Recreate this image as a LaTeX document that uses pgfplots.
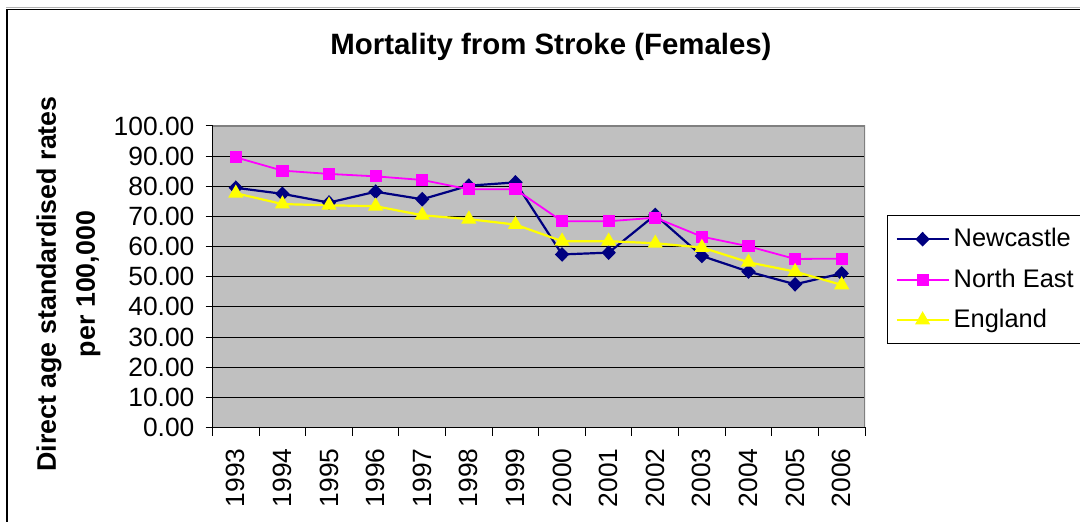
\documentclass[border=0pt]{standalone}
\usepackage{pgfplots}
\pgfplotsset{compat=1.18}
\usepackage{fontspec}
\setmainfont{Liberation Sans}
\definecolor{navy}{HTML}{000080}
\definecolor{mag}{HTML}{FF00FF}
\definecolor{yel}{HTML}{FFFF00}
\definecolor{plotbg}{HTML}{C0C0C0}
\begin{document}
\begin{tikzpicture}
\path[use as bounding box] (0pt,0pt) rectangle (540pt,-261pt);
\draw[gray!60, line width=0.5pt] (3pt,-4pt) -- (600pt,-4pt);
\draw[black, line width=0.6pt] (3.5pt,-300pt) -- (3.5pt,-4.75pt) -- (600pt,-4.75pt);
\node[anchor=base, font=\bfseries\fontsize{14.7}{17}\selectfont] at (275.5pt,-27.5pt) {Mortality from Stroke (Females)};
\node[rotate=90, align=center, font=\bfseries\fontsize{13.4}{19.5}\selectfont] at (34.25pt,-142pt) {Direct age standardised rates\\per 100,000};
\begin{axis}[
  at={(106.25pt,-213.75pt)}, anchor=south west,
  scale only axis, width=326.25pt, height=150.75pt,
  xmin=-0.5, xmax=13.5, ymin=0, ymax=100,
  axis background/.style={fill=plotbg},
  axis x line*=bottom, axis y line*=left,
  axis line style={-, black, line width=0.7pt},
  xtick={0,...,13},
  xticklabels={1993,1994,1995,1996,1997,1998,1999,2000,2001,2002,2003,2004,2005,2006},
  major x tick style={draw=none},
  minor xtick={-0.5,0.5,...,13.5},
  minor tick length=4pt,
  minor tick style={black, line width=0.5pt},
  ytick={0,10,...,100},
  tick align=outside,
  major tick length=3.5pt,
  major tick style={black, line width=0.5pt},
  ymajorgrids, major grid style={black, line width=0.5pt},
  /pgf/number format/assume math mode=true,
  ticklabel style={font=\fontsize{13.2}{15}\selectfont},
  yticklabel style={/pgf/number format/.cd, fixed, fixed zerofill, precision=2},
  yticklabel shift=2pt,
  xticklabel style={rotate=90, anchor=east},
  xticklabel shift=3.5pt,
  legend style={at={(1.0337,0.7048)}, anchor=north west, draw=black, line width=0.5pt, fill=white,
    font=\fontsize{12.7}{15}\selectfont, row sep=5.5pt, inner xsep=4pt, inner ysep=4.5pt, cells={anchor=west}},
  legend image code/.code={\draw[mark repeat=2,mark phase=2,#1] plot coordinates {(0pt,0pt) (13pt,0pt) (26pt,0pt)};},
]
\addplot[color=navy, line width=1.1pt, mark=diamond*, mark size=2.9pt, mark options={xscale=1.3, fill=navy, solid}]
  coordinates {(0,79.5) (1,77.5) (2,74.6) (3,78.2) (4,75.7) (5,80.2) (6,81.3) (7,57.4) (8,58.0) (9,70.5) (10,56.9) (11,51.7) (12,47.5) (13,51.1)};
\addplot[color=mag, line width=0.9pt, mark=square*, mark size=2.6pt, mark options={fill=mag, solid}]
  coordinates {(0,89.6) (1,85.2) (2,84.1) (3,83.3) (4,82.1) (5,79.0) (6,79.0) (7,68.4) (8,68.4) (9,69.6) (10,63.3) (11,60.1) (12,55.9) (13,56.0)};
\addplot[color=yel, line width=1.1pt, mark=triangle*, mark size=3.3pt, mark options={fill=yel, solid}]
  coordinates {(0,77.7) (1,74.1) (2,73.7) (3,73.4) (4,70.4) (5,69.1) (6,67.3) (7,61.8) (8,61.8) (9,61.1) (10,59.7) (11,54.8) (12,51.7) (13,47.3)};
\legend{Newcastle, North East, England}
\draw[gray, line width=0.6pt] (rel axis cs:0,1) -- (rel axis cs:1,1) -- (rel axis cs:1,0);
\end{axis}
\end{tikzpicture}
\end{document}
